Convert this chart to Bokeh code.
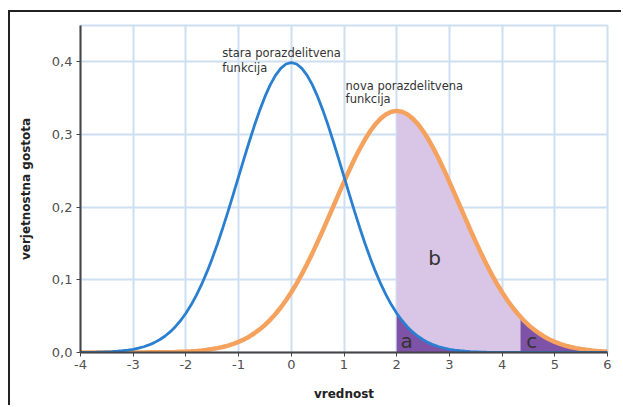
from bokeh.plotting import figure
from bokeh.embed import file_html
from bokeh.resources import INLINE
from bokeh.models import FixedTicker, CustomJSTickFormatter, Range1d, Label
from bokeh.core.properties import value

# x positions (vrednost), step 0.1 from -4 to 6
x_vals = [round(-4 + 0.1 * i, 1) for i in range(101)]

# old distribution ("stara porazdelitvena funkcija")
old_density = [
    0.0001, 0.0002, 0.0003, 0.0004, 0.0006, 0.0009, 0.0012, 0.0017, 0.0024, 0.0033,
    0.0044, 0.0060, 0.0079, 0.0104, 0.0136, 0.0175, 0.0224, 0.0283, 0.0355, 0.0440,
    0.0540, 0.0656, 0.0790, 0.0940, 0.1109, 0.1295, 0.1497, 0.1714, 0.1942, 0.2179,
    0.2420, 0.2661, 0.2897, 0.3123, 0.3332, 0.3521, 0.3683, 0.3814, 0.3910, 0.3970,
    0.3989,
    0.3970, 0.3910, 0.3814, 0.3683, 0.3521, 0.3332, 0.3123, 0.2897, 0.2661, 0.2420,
    0.2179, 0.1942, 0.1714, 0.1497, 0.1295, 0.1109, 0.0940, 0.0790, 0.0656, 0.0540,
    0.0440, 0.0355, 0.0283, 0.0224, 0.0175, 0.0136, 0.0104, 0.0079, 0.0060, 0.0044,
    0.0033, 0.0024, 0.0017, 0.0012, 0.0009, 0.0006, 0.0004, 0.0003, 0.0002, 0.0001,
    0.0001, 0.0, 0.0, 0.0, 0.0, 0.0, 0.0, 0.0, 0.0, 0.0,
    0.0, 0.0, 0.0, 0.0, 0.0, 0.0, 0.0, 0.0, 0.0, 0.0,
]

# new distribution ("nova porazdelitvena funkcija")
new_density = [
    0.0, 0.0, 0.0, 0.0, 0.0, 0.0, 0.0, 0.0, 0.0, 0.0,
    0.0001, 0.0001, 0.0001, 0.0002, 0.0002, 0.0003, 0.0004, 0.0005, 0.0007, 0.0010,
    0.0013, 0.0017, 0.0022, 0.0029, 0.0037, 0.0047, 0.0060, 0.0076, 0.0095, 0.0118,
    0.0146, 0.0179, 0.0218, 0.0265, 0.0318, 0.0379, 0.0450, 0.0530, 0.0619, 0.0719,
    0.0829, 0.0949, 0.1079, 0.1219, 0.1367, 0.1522, 0.1683, 0.1849, 0.2016, 0.2184,
    0.2349, 0.2509, 0.2662, 0.2804, 0.2934, 0.3048, 0.3145, 0.3222, 0.3279, 0.3313,
    0.3325,
    0.3313, 0.3279, 0.3222, 0.3145, 0.3048, 0.2934, 0.2804, 0.2662, 0.2509, 0.2349,
    0.2184, 0.2016, 0.1849, 0.1683, 0.1522, 0.1367, 0.1219, 0.1079, 0.0949, 0.0829,
    0.0719, 0.0619, 0.0530, 0.0450, 0.0379, 0.0318, 0.0265, 0.0218, 0.0179, 0.0146,
    0.0118, 0.0095, 0.0076, 0.0060, 0.0047, 0.0037, 0.0029, 0.0022, 0.0017, 0.0013,
]

# region c boundary (upper tail of new distribution)
c_start_x = 4.35
c_start_y = 0.0489

x_ticks = [-4, -3, -2, -1, 0, 1, 2, 3, 4, 5, 6]
y_ticks = [0.0, 0.1, 0.2, 0.3, 0.4]

FONT = "DejaVu Sans"

p = figure(width=613, height=395, output_backend="svg", toolbar_location=None,
           x_range=Range1d(-4, 6), y_range=Range1d(0, 0.45),
           min_border_left=70, min_border_right=16, min_border_top=13, min_border_bottom=55)
p.styles = {"margin-left": "8px", "margin-top": "10px",
            "border-left": "2px solid #222", "border-top": "2px solid #222"}

# region b (light purple) under new curve from x=2
b_x = [x for x in x_vals if x >= 2]
b_y = [y for x, y in zip(x_vals, new_density) if x >= 2]
p.varea(x=b_x, y1=0, y2=b_y, fill_color="#d9c6e6", fill_alpha=1)

# region a (dark purple) under old curve from x=2
a_x = [x for x in x_vals if x >= 2]
a_y = [y for x, y in zip(x_vals, old_density) if x >= 2]
p.varea(x=a_x, y1=0, y2=a_y, fill_color="#7e52a6", fill_alpha=1)

# region c (dark purple) under new curve from x=4.35
c_x = [c_start_x] + [x for x in x_vals if x > c_start_x]
c_y = [c_start_y] + [y for x, y in zip(x_vals, new_density) if x > c_start_x]
p.varea(x=c_x, y1=0, y2=c_y, fill_color="#7e52a6", fill_alpha=1)

p.line(x_vals, new_density, line_color="#f5a25f", line_width=4.5)
p.line(x_vals, old_density, line_color="#2a7fd0", line_width=2.8)

# grid / axes
p.xgrid.grid_line_color = "#cddff0"
p.ygrid.grid_line_color = "#cddff0"
p.xgrid.grid_line_width = 2
p.ygrid.grid_line_width = 2
p.outline_line_color = "#cddff0"
p.outline_line_width = 2
p.background_fill_color = "white"

p.xaxis.ticker = FixedTicker(ticks=x_ticks)
p.yaxis.ticker = FixedTicker(ticks=y_ticks)
p.yaxis.formatter = CustomJSTickFormatter(code="return tick.toFixed(1).replace('.', ',');")
p.xaxis.formatter = CustomJSTickFormatter(code="return tick.toFixed(0);")

for ax in (p.xaxis[0], p.yaxis[0]):
    ax.axis_line_color = "#444"
    ax.axis_line_width = 2
    ax.major_tick_line_color = "#444"
    ax.major_tick_in = 0
    ax.major_tick_out = 4
    ax.minor_tick_line_color = None
    ax.major_label_text_color = "#505050"
    ax.major_label_text_font = FONT
    ax.major_label_text_font_size = "13px"
    ax.axis_label_text_font = FONT
    ax.axis_label_text_font_style = "bold"
    ax.axis_label_text_font_size = "12px"
    ax.axis_label_text_color = "#222"

p.xaxis.axis_label = "vrednost"
p.yaxis.axis_label = "verjetnostna gostota"
p.xaxis.axis_label_standoff = 15
p.yaxis.axis_label_standoff = 16
p.xaxis.major_label_standoff = 3
p.yaxis.major_label_standoff = 4

# annotations
def note(x, y, text, size):
    p.add_layout(Label(x=x, y=y, text=text, text_font=FONT, text_font_size=size,
                       text_color="#333", text_baseline="alphabetic"))

note(-1.31, 0.412, "stara porazdelitvena", "11.5px")
note(-1.31, 0.392, "funkcija", "11.5px")
note(1.03, 0.3667, "nova porazdelitvena", "11.5px")
note(1.03, 0.3492, "funkcija", "11.5px")
note(2.6, 0.1307, "b", "20px")
note(2.07, 0.0165, "a", "20px")
note(4.46, 0.0165, "c", "20px")

open("out.html", "w").write(file_html(p, INLINE))
